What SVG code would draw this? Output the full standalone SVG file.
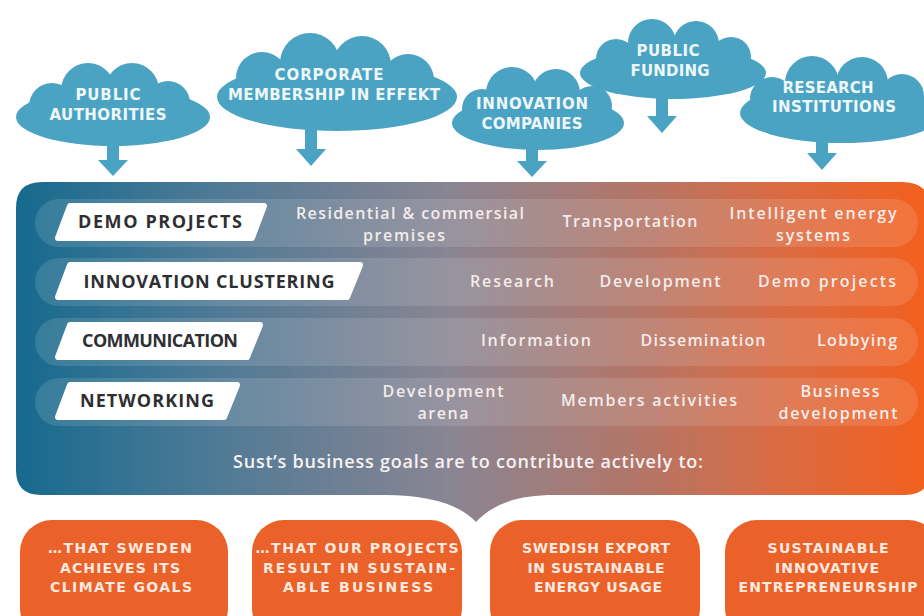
<svg xmlns="http://www.w3.org/2000/svg" width="924" height="616" viewBox="0 0 924 616">
<defs>
<linearGradient id="pg" x1="16" y1="0" x2="924" y2="0" gradientUnits="userSpaceOnUse">
<stop offset="0" stop-color="#156a8e"/>
<stop offset="0.22" stop-color="#4f7a96"/>
<stop offset="0.48" stop-color="#8a8592"/>
<stop offset="0.68" stop-color="#b27669"/>
<stop offset="0.85" stop-color="#dc6a40"/>
<stop offset="1" stop-color="#f2601f"/>
</linearGradient>
<style>
.cl{fill:#4ba3c4}
.ct{font-family:"DejaVu Sans","Open Sans",sans-serif;font-weight:700;font-size:15px;fill:#eef7fa;text-anchor:middle}
.row{fill:#ffffff;fill-opacity:0.12}
.lbl{fill:#ffffff;stroke:#ffffff;stroke-width:6;stroke-linejoin:round}
.lt{font-family:"Open Sans","DejaVu Sans",sans-serif;font-weight:700;font-size:18px;fill:#2e2f33;text-anchor:middle}
.it{font-family:"Open Sans","DejaVu Sans",sans-serif;font-weight:600;font-size:16px;fill:#f4ecea;text-anchor:middle}
.st{font-family:"Open Sans","DejaVu Sans",sans-serif;font-weight:600;font-size:18px;fill:#f6f2f2;text-anchor:middle}
.gb{fill:#ea612a}
.gt{font-family:"DejaVu Sans","Open Sans",sans-serif;font-weight:700;font-size:14px;fill:#fde9df;text-anchor:middle}
</style>
</defs>
<rect width="924" height="616" fill="#ffffff"/>

<g id="panel">
<path d="M16 208 Q16 182 42 182 L902 182 Q930 182 930 208 L930 470 Q930 495 905 495 L555 495 C515 495 492 505 476 522 C460 505 430 495 385 495 L41 495 Q16 495 16 470 Z" fill="url(#pg)"/>
<text class="st" x="468" y="468" textLength="470">Sust’s business goals are to contribute actively to:</text>
</g>

<g id="row-demo">
<rect class="row" x="35" y="199" width="883" height="48" rx="24"/>
<polygon class="lbl" points="70,206 264,206 252,238 58,238"/>
<text class="lt" x="160" y="228" textLength="164">DEMO PROJECTS</text>
<text class="it" x="410" y="219" textLength="228">Residential &amp; commersial</text>
<text class="it" x="404" y="241" textLength="82">premises</text>
<text class="it" x="630" y="227" textLength="135">Transportation</text>
<text class="it" x="813" y="219" textLength="167">Intelligent energy</text>
<text class="it" x="813" y="241" textLength="74">systems</text>
</g>

<g id="row-innovation">
<rect class="row" x="35" y="258" width="883" height="48" rx="24"/>
<polygon class="lbl" points="70,265 360,265 347,297 58,297"/>
<text class="lt" x="209" y="288" textLength="251">INNOVATION CLUSTERING</text>
<text class="it" x="512" y="287" textLength="84">Research</text>
<text class="it" x="660" y="287" textLength="121">Development</text>
<text class="it" x="827" y="287" textLength="138">Demo projects</text>
</g>

<g id="row-communication">
<rect class="row" x="35" y="318" width="883" height="48" rx="24"/>
<polygon class="lbl" points="70,325 260,325 247,357 58,357"/>
<text class="lt" x="160" y="347" textLength="156">COMMUNICATION</text>
<text class="it" x="536" y="346" textLength="110">Information</text>
<text class="it" x="703" y="346" textLength="125">Dissemination</text>
<text class="it" x="857" y="346" textLength="80">Lobbying</text>
</g>

<g id="row-networking">
<rect class="row" x="35" y="378" width="883" height="48" rx="24"/>
<polygon class="lbl" points="70,385 237,385 224,417 58,417"/>
<text class="lt" x="147" y="407" textLength="134">NETWORKING</text>
<text class="it" x="443" y="397" textLength="121">Development</text>
<text class="it" x="443" y="419" textLength="51">arena</text>
<text class="it" x="649" y="406" textLength="176">Members activities</text>
<text class="it" x="840" y="397" textLength="79">Business</text>
<text class="it" x="838" y="419" textLength="119">development</text>
</g>

<g id="cloud-public-authorities">
<ellipse class="cl" cx="113" cy="117" rx="97" ry="29"/>
<circle class="cl" cx="88" cy="90" r="27"/>
<circle class="cl" cx="132" cy="90" r="27"/>
<circle class="cl" cx="168" cy="103" r="22"/>
<circle class="cl" cx="52" cy="106" r="23"/>
<polygon class="cl" points="107,140 119,140 119,160 128,160 113,176 98,160 107,160"/>
<text class="ct" x="108" y="100" textLength="65">PUBLIC</text>
<text class="ct" x="108" y="120" textLength="117">AUTHORITIES</text>
</g>

<g id="cloud-corporate">
<ellipse class="cl" cx="337" cy="97" rx="120" ry="34"/>
<circle class="cl" cx="310" cy="63" r="30"/>
<circle class="cl" cx="362" cy="65" r="29"/>
<circle class="cl" cx="262" cy="78" r="26"/>
<circle class="cl" cx="408" cy="80" r="26"/>
<polygon class="cl" points="305,125 317,125 317,149 326,149 311,166 296,149 305,149"/>
<text class="ct" x="329" y="80" textLength="109">CORPORATE</text>
<text class="ct" x="334" y="100" textLength="212">MEMBERSHIP IN EFFEKT</text>
</g>

<g id="cloud-innovation-companies">
<ellipse class="cl" cx="538" cy="123" rx="86" ry="27"/>
<circle class="cl" cx="512" cy="93" r="26"/>
<circle class="cl" cx="556" cy="93" r="24"/>
<circle class="cl" cx="592" cy="106" r="20"/>
<circle class="cl" cx="482" cy="109" r="20"/>
<polygon class="cl" points="526,145 538,145 538,161 547,161 532,177 517,161 526,161"/>
<text class="ct" x="532" y="109" textLength="112">INNOVATION</text>
<text class="ct" x="532" y="129" textLength="101">COMPANIES</text>
</g>

<g id="cloud-public-funding">
<ellipse class="cl" cx="673" cy="73" rx="93" ry="26"/>
<circle class="cl" cx="652" cy="43" r="24"/>
<circle class="cl" cx="696" cy="44" r="23"/>
<circle class="cl" cx="731" cy="57" r="20"/>
<circle class="cl" cx="616" cy="59" r="20"/>
<polygon class="cl" points="656,95 668,95 668,116 677,116 662,133 647,116 656,116"/>
<text class="ct" x="668" y="56" textLength="63">PUBLIC</text>
<text class="ct" x="670" y="76" textLength="79">FUNDING</text>
</g>

<g id="cloud-research">
<ellipse class="cl" cx="842" cy="113" rx="102" ry="30"/>
<circle class="cl" cx="812" cy="83" r="27"/>
<circle class="cl" cx="862" cy="83" r="26"/>
<circle class="cl" cx="902" cy="96" r="22"/>
<circle class="cl" cx="772" cy="99" r="22"/>
<polygon class="cl" points="816,138 828,138 828,153 837,153 822,170 807,153 816,153"/>
<text class="ct" x="828" y="93" textLength="91">RESEARCH</text>
<text class="ct" x="834" y="112" textLength="124">INSTITUTIONS</text>
</g>

<g id="goal-sweden">
<rect class="gb" x="20" y="520" width="208" height="120" rx="32"/>
<text class="gt" x="120" y="553" textLength="144">…THAT SWEDEN</text>
<text class="gt" x="120" y="572.5" textLength="120">ACHIEVES ITS</text>
<text class="gt" x="121" y="592" textLength="142">CLIMATE GOALS</text>
</g>

<g id="goal-projects">
<rect class="gb" x="252" y="520" width="210" height="120" rx="32"/>
<text class="gt" x="357" y="553" textLength="203">…THAT OUR PROJECTS</text>
<text class="gt" x="359" y="572.5" textLength="192">RESULT IN SUSTAIN-</text>
<text class="gt" x="358" y="592" textLength="150">ABLE BUSINESS</text>
</g>

<g id="goal-export">
<rect class="gb" x="490" y="520" width="210" height="120" rx="32"/>
<text class="gt" x="596" y="553" textLength="148">SWEDISH EXPORT</text>
<text class="gt" x="596" y="572.5" textLength="137">IN SUSTAINABLE</text>
<text class="gt" x="598" y="592" textLength="128">ENERGY USAGE</text>
</g>

<g id="goal-entrepreneurship">
<rect class="gb" x="725" y="520" width="215" height="120" rx="32"/>
<text class="gt" x="828" y="553" textLength="121">SUSTAINABLE</text>
<text class="gt" x="827" y="572.5" textLength="104">INNOVATIVE</text>
<text class="gt" x="828" y="592" textLength="179">ENTREPRENEURSHIP</text>
</g>

<g id="connectors"/>
</svg>
